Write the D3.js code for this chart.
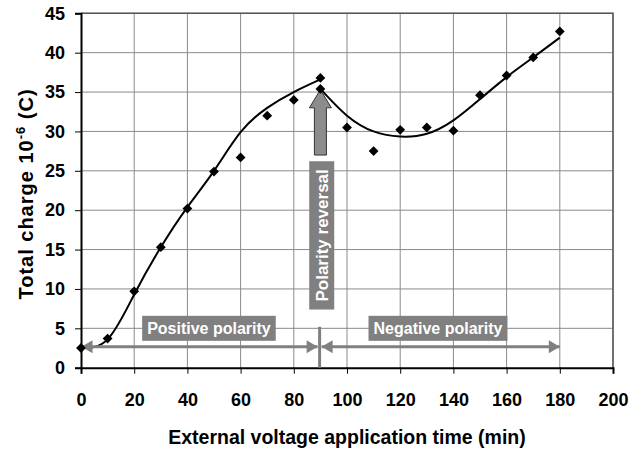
<!DOCTYPE html>
<html>
<head>
<meta charset="utf-8">
<script src="https://d3js.org/d3.v7.min.js"></script>
<style>
body{margin:0;background:#fff;}
svg{display:block;font-family:Arial,"Liberation Sans",sans-serif;}
</style>
</head>
<body>
<svg width="643" height="450"></svg>
<script>
// measured points
var times  = [0,10,20,30,40,50,60,70,80,90,90,100,110,120,130,140,150,160,170,180];
var charge = [2.5,3.7,9.7,15.3,20.2,24.9,26.7,32.0,34.0,36.8,35.4,30.5,27.5,30.2,30.5,30.1,34.6,37.1,39.4,42.7];
// trend lines
var fitTime1   = [0,10,20,30,40,50,60,70,80,90];
var fitCharge1 = [2.6,3.6,9.3,15.3,20.4,25.0,29.9,33.0,35.0,36.6];
var fitTime2   = [90,100,110,120,130,140,150,160,170,180];
var fitCharge2 = [35.4,32.0,30.0,29.35,29.7,31.4,34.1,36.9,39.4,41.9];
var xTicks = [0,20,40,60,80,100,120,140,160,180,200];
var yTicks = [0,5,10,15,20,25,30,35,40,45];

window.onload=function(){
	var margin = {top: 13.3, right: 30, bottom: 82.3, left: 81};
	var width = 643 - margin.left - margin.right;
	var height = 450 - margin.top - margin.bottom;
	var svg = d3.select("svg");
	var g = svg.append("g").attr("transform","translate("+margin.left+","+margin.top+")");
	var x = d3.scaleLinear().domain([0,200]).range([0,width]);
	var y = d3.scaleLinear().domain([0,45]).range([height,0]);
	var grey = "#808080";
	var font = "Arial, 'Liberation Sans', sans-serif";

	//grid
	g.append("g").selectAll("line").data(xTicks.slice(1)).enter().append("line")
		.attr("x1",function(d){return x(d);}).attr("x2",function(d){return x(d);})
		.attr("y1",0).attr("y2",height)
		.attr("stroke","#8a8a8a").attr("stroke-width",1);
	g.append("g").selectAll("line").data(yTicks.slice(1)).enter().append("line")
		.attr("x1",0).attr("x2",width)
		.attr("y1",function(d){return y(d);}).attr("y2",function(d){return y(d);})
		.attr("stroke","#8a8a8a").attr("stroke-width",1);
	//border top/right
	g.append("path").attr("d","M0,0H"+width+"V"+height)
		.attr("fill","none").attr("stroke","#555").attr("stroke-width",1.5);

	//axes
	var xAxis = g.append("g").attr("transform","translate(0,"+height+")")
		.call(d3.axisBottom(x).tickValues(xTicks).tickSize(6).tickPadding(20));
	var yAxis = g.append("g")
		.call(d3.axisLeft(y).tickValues(yTicks).tickSize(6).tickPadding(10));
	[xAxis,yAxis].forEach(function(a){
		a.select(".domain").attr("stroke","#000").attr("stroke-width",2);
		a.selectAll(".tick line").attr("stroke","#000").attr("stroke-width",1);
		a.selectAll(".tick text").attr("font-size",18).attr("font-weight","bold")
			.attr("font-family",font).attr("fill","#000");
	});

	//trend lines
	var line = d3.line().x(function(d){return x(d[0]);}).y(function(d){return y(d[1]);})
		.curve(d3.curveNatural);
	[[fitTime1,fitCharge1],[fitTime2,fitCharge2]].forEach(function(s){
		g.append("path").datum(d3.zip(s[0],s[1])).attr("d",line)
			.attr("fill","none").attr("stroke","#000").attr("stroke-width",2);
	});

	//range arrows
	var ay = y(2.65), rx = x(89.7);
	function hArrow(x1,x2,headStart,headEnd){
		g.append("line").attr("x1",x1).attr("x2",x2).attr("y1",ay).attr("y2",ay)
			.attr("stroke",grey).attr("stroke-width",3);
		if(headStart) g.append("path").attr("fill",grey)
			.attr("d","M"+x1+","+ay+"l11,-6.5v13z");
		if(headEnd) g.append("path").attr("fill",grey)
			.attr("d","M"+x2+","+ay+"l-11,-6.5v13z");
	}
	hArrow(x(0)+0.5, rx-2, true, true);
	hArrow(rx+2, x(180), true, true);
	g.append("line").attr("x1",rx).attr("x2",rx).attr("y1",y(5.2)).attr("y2",height)
		.attr("stroke",grey).attr("stroke-width",3);

	//label boxes
	function box(cx,cy,txt,rot,padX){
		var lg = g.append("g").attr("transform","translate("+cx+","+cy+") rotate("+rot+")");
		var t = lg.append("text").text(txt).attr("text-anchor","middle").attr("dy","0.36em")
			.attr("font-size",rot?17:16).attr("font-weight","bold").attr("fill","#fff");
		var w = t.node().getComputedTextLength();
		lg.insert("rect","text").attr("x",-w/2-padX).attr("y",-12.5).attr("width",w+2*padX)
			.attr("height",25).attr("fill",grey);
	}
	box(x(48.1), y(5.0), "Positive polarity", 0, 5);
	box(x(134.2), y(5.0), "Negative polarity", 0, 5);
	box(x(90.5), y(16.8), "Polarity reversal", -90, 8);

	//up arrow
	var ux = x(90), tip = y(35.3), hb = y(33.0), bot = y(27.0);
	g.append("path")
		.attr("d","M"+ux+","+tip+"L"+(ux+11)+","+hb+"H"+(ux+6)+"V"+bot+"H"+(ux-6)+"V"+hb+"H"+(ux-11)+"Z")
		.attr("fill","#8c8c8c").attr("stroke","#333").attr("stroke-width",1);

	//points
	var sym = d3.symbol().type(d3.symbolSquare).size(48);
	g.append("g").selectAll("path").data(d3.zip(times,charge)).enter().append("path")
		.attr("d",sym)
		.attr("transform",function(d){return "translate("+x(d[0])+","+y(d[1])+") rotate(45)";})
		.attr("fill","#000");

	//titles
	svg.append("text").attr("x",347).attr("y",444)
		.attr("text-anchor","middle").attr("font-size",19.5).attr("font-weight","bold")
		.text("External voltage application time (min)");
	var yt = svg.append("text").attr("transform","translate(33,194) rotate(-90)")
		.attr("text-anchor","middle").attr("font-size",20).attr("font-weight","bold")
		.attr("letter-spacing",1);
	yt.append("tspan").text("Total charge 10");
	yt.append("tspan").attr("dy",-8).attr("font-size",13).text("-6");
	yt.append("tspan").attr("dy",8).text(" (C)");
};
</script>
</body>
</html>
